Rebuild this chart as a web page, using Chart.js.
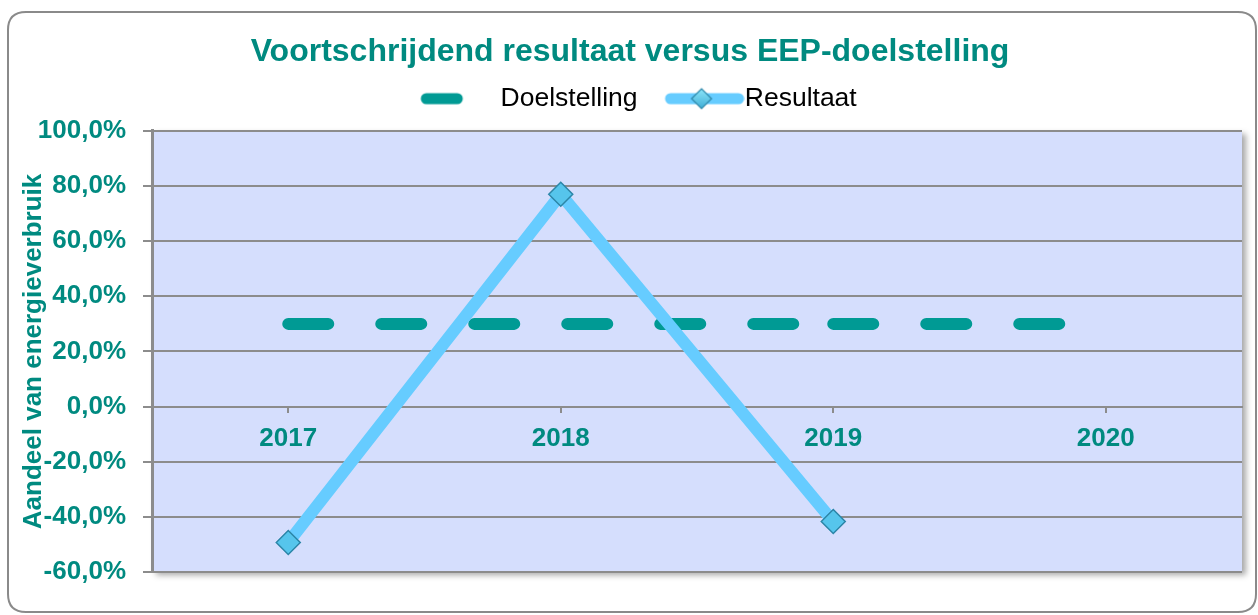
<!DOCTYPE html>
<html><head><meta charset="utf-8">
<script src="https://cdn.jsdelivr.net/npm/chart.js@4.4.1/dist/chart.umd.min.js"></script>
<style>html,body{margin:0;padding:0;background:#fff;overflow:hidden}</style>
</head><body>
<canvas id="c" width="1258" height="615"></canvas>
<script>
const categories = ['2017', '2018', '2019', '2020'];
const doelstelling = [30, 30, 30, 30];
const resultaat = [-49.3, 77.0, -41.7, null];
const seriesNames = ['Doelstelling', 'Resultaat'];
const yMin = -60, yMax = 100, yStep = 20;
const chartTitle = 'Voortschrijdend resultaat versus EEP-doelstelling';
const yAxisTitle = 'Aandeel van energieverbruik';

const TEAL_TEXT = '#008A80';
const TEAL_LINE = '#009A94';
const BLUE_LINE = '#66CCFF';
const GRID = '#8C8C8C';
const FONT = "'Liberation Sans', Arial, sans-serif";

function makeLegendImg(kind) {
  const c = document.createElement('canvas');
  c.width = 110; c.height = 24;
  const g = c.getContext('2d');
  g.lineCap = 'round';
  g.lineWidth = 11;
  if (kind === 0) {
    g.strokeStyle = TEAL_LINE;
    g.beginPath(); g.moveTo(36, 12); g.lineTo(67, 12); g.stroke();
  } else {
    g.strokeStyle = BLUE_LINE;
    g.beginPath(); g.moveTo(36, 12); g.lineTo(104, 12); g.stroke();
    const cx = 67, cy = 12, r = 10;
    const grad = g.createLinearGradient(cx, cy - r, cx, cy + r);
    grad.addColorStop(0, '#8EE6FA'); grad.addColorStop(1, '#3FAED6');
    g.fillStyle = grad; g.strokeStyle = '#2C86A8'; g.lineWidth = 1.2;
    g.beginPath(); g.moveTo(cx - r, cy); g.lineTo(cx, cy - r); g.lineTo(cx + r, cy); g.lineTo(cx, cy + r); g.closePath();
    g.fill(); g.stroke();
  }
  return c;
}
const legendImgs = [makeLegendImg(0), makeLegendImg(1)];

function roundRect(ctx, x, y, w, h, r) {
  ctx.beginPath();
  ctx.moveTo(x + r, y); ctx.lineTo(x + w - r, y); ctx.quadraticCurveTo(x + w, y, x + w, y + r);
  ctx.lineTo(x + w, y + h - r); ctx.quadraticCurveTo(x + w, y + h, x + w - r, y + h);
  ctx.lineTo(x + r, y + h); ctx.quadraticCurveTo(x, y + h, x, y + h - r);
  ctx.lineTo(x, y + r); ctx.quadraticCurveTo(x, y, x + r, y); ctx.closePath();
}

const bgPlugin = {
  id: 'bg',
  beforeDraw(chart) {
    const ctx = chart.ctx, a = chart.chartArea;
    ctx.save();
    ctx.fillStyle = '#fff'; ctx.fillRect(0, 0, chart.width, chart.height);
    ctx.strokeStyle = '#8A8A8A'; ctx.lineWidth = 2;
    roundRect(ctx, 8, 12, 1248, 600, 18); ctx.stroke();
    ctx.shadowColor = 'rgba(0,0,0,0.35)'; ctx.shadowBlur = 6; ctx.shadowOffsetX = 4; ctx.shadowOffsetY = 3;
    ctx.fillStyle = '#D5DEFD';
    ctx.fillRect(a.left, a.top, a.right - a.left, a.bottom - a.top);
    ctx.restore();
  }
};

new Chart(document.getElementById('c'), {
  type: 'line',
  data: {
    labels: categories,
    datasets: [
      {
        label: seriesNames[0], data: doelstelling, order: 1,
        borderColor: TEAL_LINE, borderWidth: 12, borderDash: [40, 53], borderCapStyle: 'round',
        pointRadius: 0, pointHoverRadius: 0, tension: 0,
        segment: { borderDashOffset: ctx => (ctx.p0DataIndex >= 2 ? 0.0001 : 0) }
      },
      {
        label: seriesNames[1], data: resultaat, order: 0,
        borderColor: BLUE_LINE, borderWidth: 12, borderJoinStyle: 'round', tension: 0,
        pointStyle: 'rectRot', pointRadius: 12, pointHoverRadius: 12,
        pointBackgroundColor: '#56C5EC', pointBorderColor: '#2C86A8', pointBorderWidth: 1.5
      }
    ]
  },
  options: {
    responsive: false, animation: false,
    layout: { padding: { left: 2, right: 0, top: 0, bottom: 43 } },
    plugins: {
      tooltip: { enabled: false },
      title: {
        display: true, text: chartTitle, color: TEAL_TEXT,
        font: { family: FONT, size: 32, weight: 'bold', lineHeight: 1.2 },
        padding: { top: 33, bottom: 4 }
      },
      legend: {
        display: true, position: 'top', align: 'center',
        labels: {
          usePointStyle: true, pointStyleWidth: 84, padding: 10, color: '#000',
          font: { family: FONT, size: 26.5 },
          sort: (a, b) => a.datasetIndex - b.datasetIndex,
          generateLabels: chart => {
            const items = Chart.defaults.plugins.legend.labels.generateLabels(chart);
            items.forEach(it => { it.pointStyle = legendImgs[it.datasetIndex]; });
            return items;
          }
        }
      }
    },
    scales: {
      x: {
        type: 'category', position: { y: 0 }, offset: true,
        grid: { display: true, drawOnChartArea: false, drawTicks: true, tickLength: 5, color: GRID, lineWidth: 2 },
        border: { display: true, color: GRID, width: 2 },
        ticks: { color: TEAL_TEXT, font: { family: FONT, size: 26, weight: 'bold' }, padding: 12, maxRotation: 0 }
      },
      x2: {
        type: 'linear', position: 'top', display: true,
        grid: { display: false }, border: { display: false }, ticks: { display: false },
        afterFit: s => { s.height = 9; }
      },
      y: {
        type: 'linear', position: 'left', min: yMin, max: yMax,
        afterFit: s => { s.width = 150; },
        ticks: {
          stepSize: yStep, color: TEAL_TEXT, padding: 17,
          font: { family: FONT, size: 26, weight: 'bold' },
          callback: v => v.toFixed(1).replace('.', ',') + '%'
        },
        grid: { color: GRID, lineWidth: 2, tickLength: 9, drawTicks: true },
        border: { display: true, color: GRID, width: 3 },
        title: {
          display: true, text: yAxisTitle, color: TEAL_TEXT,
          font: { family: FONT, size: 26, weight: 'bold' },
          padding: { top: 16, bottom: 0 }
        }
      },
      y2: {
        type: 'linear', position: 'right', display: true,
        grid: { display: false }, border: { display: false }, ticks: { display: false },
        afterFit: s => { s.width = 16; }
      }
    }
  },
  plugins: [bgPlugin]
});
</script>
</body></html>
